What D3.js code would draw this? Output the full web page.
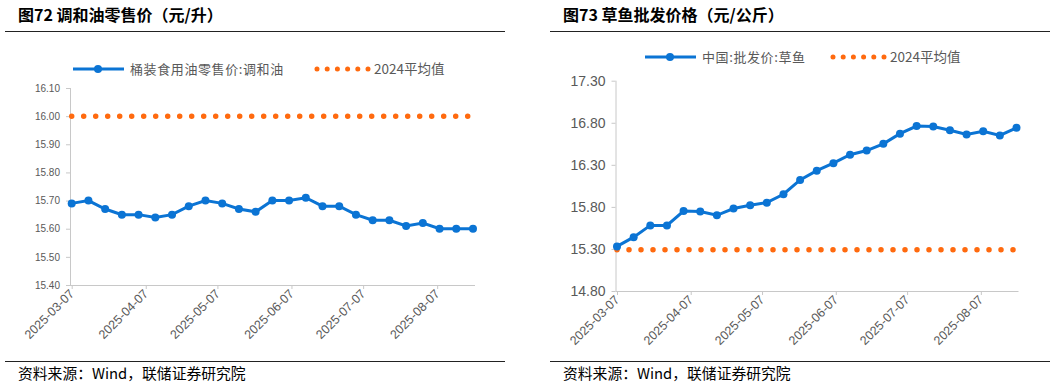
<!DOCTYPE html>
<html>
<head>
<meta charset="utf-8">
<script src="https://cdn.jsdelivr.net/npm/d3@7"></script>
<style>
  body { margin: 0; background: #fff; }
  svg { display: block; }
  .title { font-family: "Noto Sans CJK SC", sans-serif; font-weight: bold; font-size: 16px; fill: #000; }
  .foot { font-family: "Noto Sans CJK SC", sans-serif; font-size: 14.8px; fill: #000; }
  .leg { font-family: "Noto Sans CJK SC", "Liberation Sans", sans-serif; font-size: 13px; fill: #595959; }
  .tick text { font-family: "Liberation Sans", Arial, sans-serif; fill: #595959; }
</style>
</head>
<body>
<div id="chart"></div>
<script>
// weekly dates, 2025-03-07 .. 2025-08-22
var weekStart = "2025-03-07";
var weekCount = 25;
var xTickLabels = ["2025-03-07", "2025-04-07", "2025-05-07", "2025-06-07", "2025-07-07", "2025-08-07"];

// left: 桶装食用油零售价:调和油
var oilValues = [15.69, 15.70, 15.67, 15.65, 15.65, 15.64, 15.65, 15.68, 15.70, 15.69,
                 15.67, 15.66, 15.70, 15.70, 15.71, 15.68, 15.68, 15.65, 15.63, 15.63,
                 15.61, 15.62, 15.60, 15.60, 15.60];
var oilAvg2024 = 16.00;
var oilTicks = [15.40, 15.50, 15.60, 15.70, 15.80, 15.90, 16.00, 16.10];

// right: 中国:批发价:草鱼
var fishValues = [15.33, 15.44, 15.58, 15.58, 15.75, 15.745, 15.70, 15.78, 15.82, 15.85,
                  15.95, 16.12, 16.23, 16.32, 16.42, 16.47, 16.55, 16.67, 16.76, 16.755,
                  16.71, 16.66, 16.70, 16.65, 16.74];
var fishAvg2024 = 15.29;
var fishTicks = [14.80, 15.30, 15.80, 16.30, 16.80, 17.30];

var parse = d3.timeParse("%Y-%m-%d");
var dates = [];
for (var i = 0; i < weekCount; i++) dates.push(d3.timeDay.offset(parse(weekStart), i * 7));

var blue = "#0b74d4", orange = "#ff6a0f";

var svg = d3.select("#chart").append("svg")
    .attr("width", 1056)
    .attr("height", 385);

function panel(cfg) {
  var g = svg.append("g");

  g.append("text").attr("class", "title")
    .attr("x", cfg.titleX).attr("y", 20.5)
    .text(cfg.title);
  g.append("line")
    .attr("x1", cfg.lineX1).attr("x2", cfg.lineX2)
    .attr("y1", 31.5).attr("y2", 31.5)
    .style("stroke", "#222").style("stroke-width", 1);

  g.append("line")
    .attr("x1", cfg.lineX1).attr("x2", cfg.lineX2)
    .attr("y1", 361.5).attr("y2", 361.5)
    .style("stroke", "#222").style("stroke-width", 1);
  g.append("text").attr("class", "foot")
    .attr("x", cfg.titleX).attr("y", 378.5)
    .text("资料来源：Wind，联储证券研究院");

  var x = d3.scaleTime()
      .domain([dates[0], dates[dates.length - 1]])
      .range(cfg.xRange);
  var y = d3.scaleLinear()
      .domain([cfg.ticks[0], cfg.ticks[cfg.ticks.length - 1]])
      .range(cfg.yRange);

  // y axis
  var ya = g.append("g")
      .attr("transform", "translate(" + cfg.yAxisX + ",0)")
      .call(d3.axisLeft(y).tickValues(cfg.ticks).tickFormat(d3.format(".2f")).tickSize(4).tickPadding(6));
  ya.selectAll("text").style("font-size", cfg.yFont + "px");

  // x axis
  var xa = g.append("g")
      .attr("transform", "translate(0," + cfg.yRange[0] + ")")
      .call(d3.axisBottom(x).tickValues(xTickLabels.map(parse)).tickFormat(d3.timeFormat("%Y-%m-%d")).tickSize(4).tickSizeOuter(0));
  xa.select(".domain").attr("d", "M" + cfg.yAxisX + ",0.5H" + (cfg.xRange[1] + 2));
  xa.selectAll("text")
    .style("font-size", "12.5px")
    .style("text-anchor", "end")
    .attr("dy", "0.35em")
    .attr("transform", "translate(1,5) rotate(-45)")
    .attr("y", 0).attr("x", -2);

  g.selectAll(".domain, .tick line").style("stroke", "#c8c8c8");
  ya.select(".domain").attr("d", "M0.5," + cfg.yRange[1] + "V" + cfg.yRange[0]);

  // 2024 average, dotted
  g.append("path")
    .datum(dates)
    .attr("d", d3.line().x(function(d) { return x(d); }).y(function() { return y(cfg.avg); }))
    .style("fill", "none").style("stroke", orange)
    .style("stroke-width", 5.5).style("stroke-linecap", "round")
    .style("stroke-dasharray", "0,12");

  // series
  g.append("path")
    .datum(cfg.values)
    .attr("d", d3.line().x(function(d, i) { return x(dates[i]); }).y(function(d) { return y(d); }))
    .style("fill", "none").style("stroke", blue).style("stroke-width", 3);
  g.selectAll(".pt")
    .data(cfg.values)
    .enter().append("circle")
    .attr("class", "pt")
    .attr("cx", function(d, i) { return x(dates[i]); })
    .attr("cy", function(d) { return y(d); })
    .attr("r", 4)
    .style("fill", blue);

  // legend
  var lg = g.append("g");
  lg.append("line")
    .attr("x1", cfg.legX).attr("x2", cfg.legX + 51)
    .attr("y1", cfg.legY).attr("y2", cfg.legY)
    .style("stroke", blue).style("stroke-width", 3);
  lg.append("circle").attr("cx", cfg.legX + 25).attr("cy", cfg.legY).attr("r", 4).style("fill", blue);
  lg.append("text").attr("class", "leg")
    .attr("x", cfg.legX + 57).attr("y", cfg.legY + 4.5)
    .style("letter-spacing", "0.6px")
    .text(cfg.seriesName);
  lg.append("line")
    .attr("x1", cfg.leg2X).attr("x2", cfg.leg2X + 51)
    .attr("y1", cfg.legY).attr("y2", cfg.legY)
    .style("stroke", orange).style("stroke-width", 5).style("stroke-linecap", "round")
    .style("stroke-dasharray", "0,10.2");
  lg.append("text").attr("class", "leg")
    .attr("x", cfg.leg2X + 57).attr("y", cfg.legY + 4.5)
    .style("font-size", "13.5px")
    .text("2024平均值");
}

panel({
  title: "图72 调和油零售价（元/升）",
  seriesName: "桶装食用油零售价:调和油",
  values: oilValues, avg: oilAvg2024, ticks: oilTicks,
  titleX: 18, lineX1: 5, lineX2: 505,
  xRange: [71.7, 473], yRange: [285, 88], yAxisX: 70, yFont: 10,
  legX: 73, leg2X: 317, legY: 69
});

panel({
  title: "图73 草鱼批发价格（元/公斤）",
  seriesName: "中国:批发价:草鱼",
  values: fishValues, avg: fishAvg2024, ticks: fishTicks,
  titleX: 563, lineX1: 550, lineX2: 1050,
  xRange: [617, 1016.5], yRange: [291, 80.7], yAxisX: 615.5, yFont: 14,
  legX: 645, leg2X: 833, legY: 57
});
</script>
</body>
</html>
